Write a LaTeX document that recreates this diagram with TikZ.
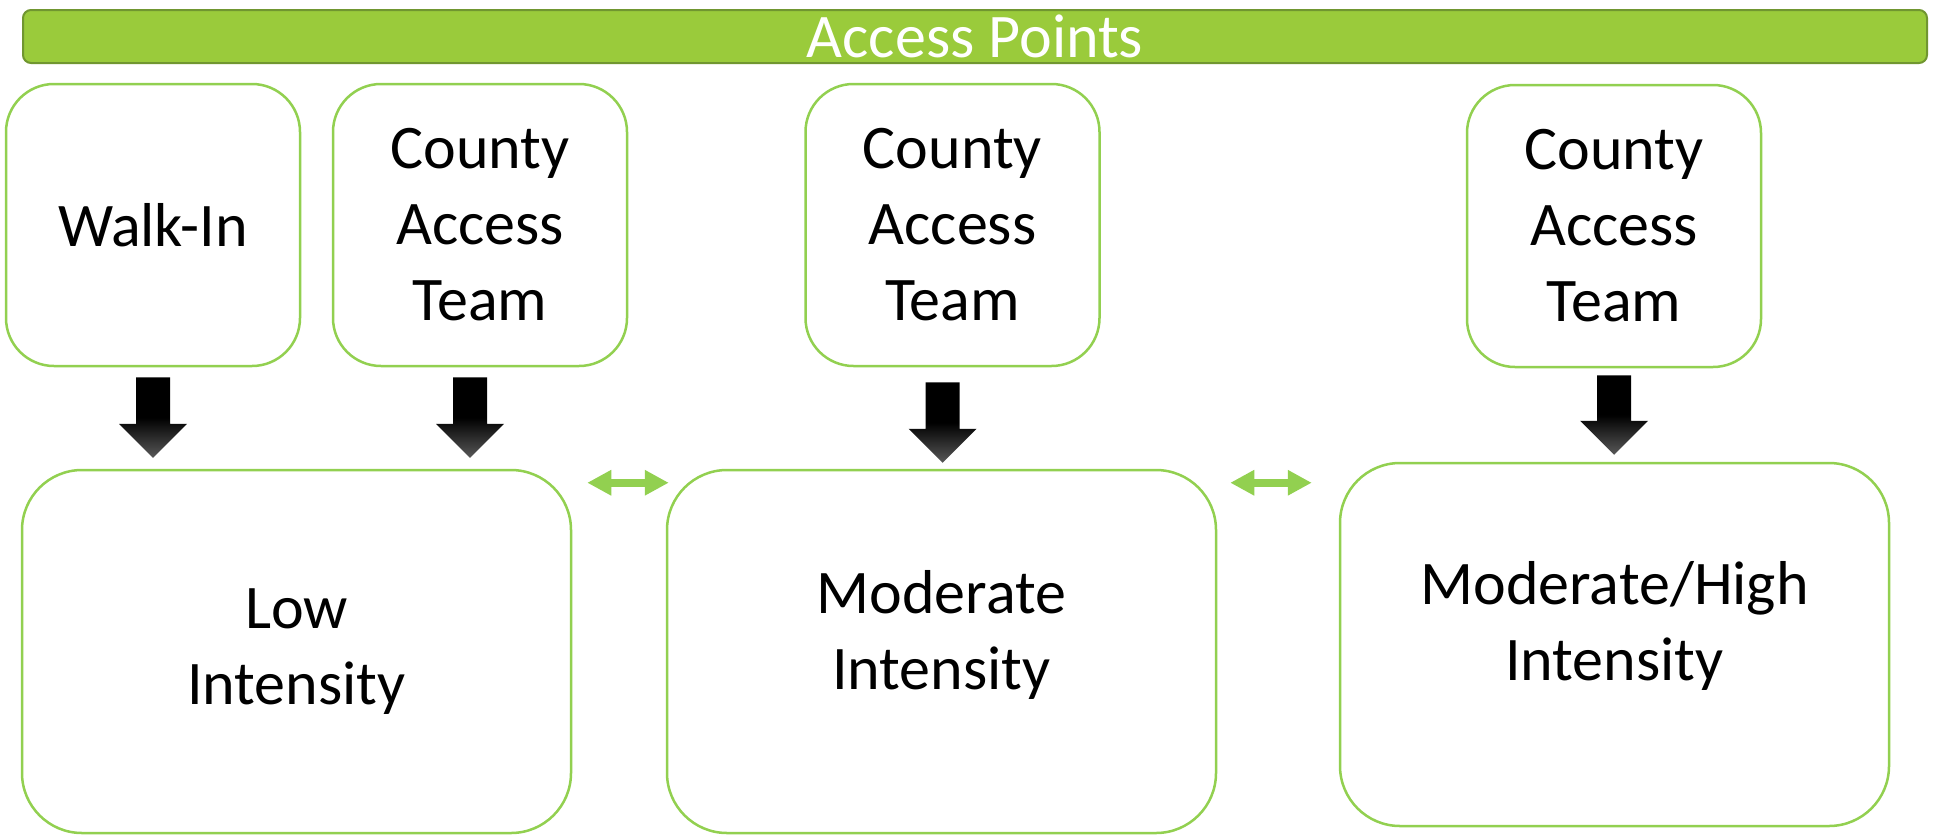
\documentclass[tikz,border=0pt]{standalone}
\usepackage{fontspec}
\setmainfont{Carlito}
\usetikzlibrary{arrows.meta,calc}
\definecolor{boxgreen}{RGB}{146,208,80}
\definecolor{barfill}{RGB}{154,203,59}
\definecolor{barline}{RGB}{112,150,48}
\definecolor{arrowgray}{RGB}{88,88,88}
\tikzset{
  txtfont/.style={font=\fontsize{62}{76}\selectfont},
  box/.style={draw=boxgreen, line width=2.5pt, rounded corners=48pt, fill=white,
    minimum width=294pt, minimum height=282pt, inner sep=0pt, align=center, txtfont},
  bigbox/.style={box, rounded corners=60pt, minimum width=549pt, minimum height=363pt},
  boxtext/.style={inner sep=0pt, align=center, txtfont},
  accessbar/.style={draw=barline, line width=2pt, fill=barfill, rounded corners=8pt,
    minimum width=1904pt, minimum height=53pt, inner sep=0pt, text=white, txtfont},
  dblarrow/.style={draw=boxgreen, line width=8pt,
    {Triangle[width=24pt,length=24pt]}-{Triangle[width=24pt,length=24pt]}},
  blockarrow/.style={top color=black, bottom color=arrowgray, middle color=black}
}
\newcommand\blockarr[2]{%
  \path[blockarrow] let \p1=(#1), \p2=(#2) in
    (\x1-17pt,\y1) -- (\x1+17pt,\y1) -- (\x1+17pt,\y2+34pt) -- (\x1+34pt,\y2+34pt)
    -- (\x1,\y2) -- (\x1-34pt,\y2+34pt) -- (\x1-17pt,\y2+34pt) -- cycle;}
\begin{document}
\begin{tikzpicture}[x=1pt,y=-1pt]
  \useasboundingbox[fill=white] (0,0) rectangle (1933,836);

  \node[accessbar] (bar) at (975,36.5) {\raisebox{-2pt}{Access Points}};

  \node[box] (walk) at (153,225) {Walk-In};
  \node[box] (cty1) at (480,225) {County\\Access\\Team};
  \node[box] (cty2) at (952.5,225) {County\\Access\\Team};
  \node[box] (cty3) at (1614,226) {County\\Access\\Team};

  \node[bigbox] (low) at (296.5,651.5) {Low\\Intensity};
  \node[bigbox] (mod) at (941.5,651.5) {};
  \node[boxtext] (modtxt) at ([yshift=17pt]mod.center) {Moderate\\Intensity};
  \node[bigbox] (mh) at (1614.5,644.5) {};
  \node[boxtext] (mhtxt) at ([yshift=19pt]mh.center) {Moderate/High\\Intensity};

  \blockarr{[yshift=-10pt]walk.south}{[yshift=11pt]low.north}
  \blockarr{[xshift=-10pt,yshift=-10pt]cty1.south}{[yshift=11pt]low.north}
  \blockarr{[xshift=-10pt,yshift=-15pt]cty2.south}{[yshift=6pt]mod.north}
  \blockarr{[yshift=-7pt]cty3.south}{[yshift=7pt]mh.north}

  \coordinate (d1a) at ([xshift=15pt,yshift=-14pt]low.north east);
  \coordinate (d1b) at ([xshift=3pt,yshift=-14pt]mod.north west);
  \coordinate (d2a) at ([xshift=13pt,yshift=-14pt]mod.north east);
  \coordinate (d2b) at ([xshift=-27pt,yshift=-21pt]mh.north west);
  \draw[dblarrow] (d1a) -- (d1b);
  \draw[dblarrow] (d2a) -- (d2b);
\end{tikzpicture}
\end{document}
